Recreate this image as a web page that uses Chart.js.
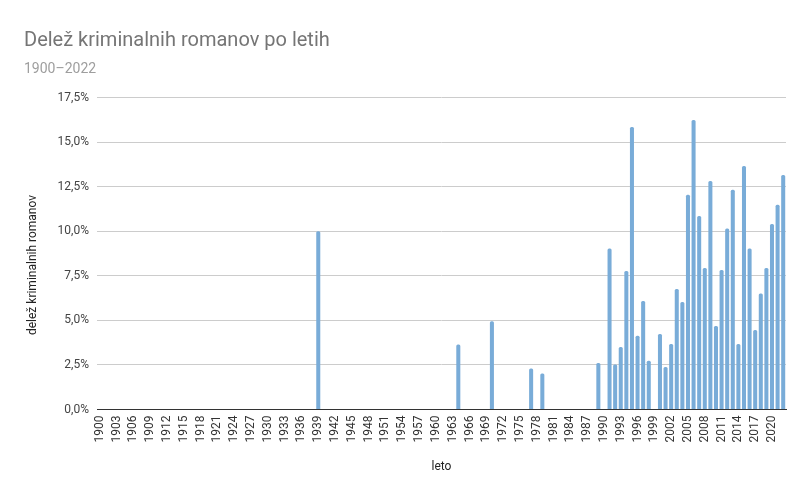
<!DOCTYPE html>
<html>
<head>
<meta charset="utf-8">
<script src="https://cdn.jsdelivr.net/npm/chart.js@4.4.1/dist/chart.umd.min.js"></script>
<style>
  html, body { margin: 0; padding: 0; background: #fff; }
  #wrap { width: 811px; height: 502px; }
</style>
</head>
<body>
<div id="wrap"><canvas id="c" width="811" height="502"></canvas></div>
<script>
const chartTitle = 'Delež kriminalnih romanov po letih';
const chartSubtitle = '1900–2022';
const xAxisTitle = 'leto';
const yAxisTitle = 'delež kriminalnih romanov';

const years = [
  '1900','1901','1902','1903','1904','1905','1906','1907','1908','1909',
  '1910','1911','1912','1913','1914','1915','1916','1917','1918','1919',
  '1920','1921','1922','1923','1924','1925','1926','1927','1928','1929',
  '1930','1931','1932','1933','1934','1935','1936','1937','1938','1939',
  '1940','1941','1942','1943','1944','1945','1946','1947','1948','1949',
  '1950','1951','1952','1953','1954','1955','1956','1957','1958','1959',
  '1960','1961','1962','1963','1964','1965','1966','1967','1968','1969',
  '1970','1971','1972','1973','1974','1975','1976','1977','1978','1979',
  '1980','1981','1982','1983','1984','1985','1986','1987','1988','1989',
  '1990','1991','1992','1993','1994','1995','1996','1997','1998','1999',
  '2000','2001','2002','2003','2004','2005','2006','2007','2008','2009',
  '2010','2011','2012','2013','2014','2015','2016','2017','2018','2019',
  '2020','2021','2022'
];

// share of crime novels per year, in percent
const shares = [
  0, 0, 0, 0, 0, 0, 0, 0, 0, 0,
  0, 0, 0, 0, 0, 0, 0, 0, 0, 0,
  0, 0, 0, 0, 0, 0, 0, 0, 0, 0,
  0, 0, 0, 0, 0, 0, 0, 0, 0, 10.0,
  0, 0, 0, 0, 0, 0, 0, 0, 0, 0,
  0, 0, 0, 0, 0, 0, 0, 0, 0, 0,
  0, 0, 0, 0, 3.65, 0, 0, 0, 0, 0,
  4.95, 0, 0, 0, 0, 0, 0, 2.30, 0, 2.02,
  0, 0, 0, 0, 0, 0, 0, 0, 0, 2.61,
  0, 9.03, 2.52, 3.51, 7.77, 15.85, 4.13, 6.09, 2.73, 0,
  4.24, 2.39, 3.68, 6.76, 6.03, 12.04, 16.24, 10.86, 7.94, 12.82,
  4.69, 7.83, 10.15, 12.32, 3.68, 13.66, 9.03, 4.46, 6.51, 7.94,
  10.41, 11.48, 13.16
];

const xTickLabels = [
  '1900','1903','1906','1909','1912','1915','1918','1921','1924','1927',
  '1930','1933','1936','1939','1942','1945','1948','1951','1954','1957',
  '1960','1963','1966','1969','1972','1975','1978','1981','1984','1987',
  '1990','1993','1996','1999','2002','2005','2008','2011','2014','2017','2020'
];

const yTicks = [0, 2.5, 5, 7.5, 10, 12.5, 15, 17.5];

const FONT = 'Roboto';

const yTitlePlugin = {
  id: 'yTitle',
  afterDraw(chart) {
    const ctx = chart.ctx;
    ctx.save();
    ctx.translate(32.5, 265);
    ctx.rotate(-Math.PI / 2);
    ctx.font = '12px ' + FONT;
    ctx.fillStyle = '#222222';
    ctx.textAlign = 'center';
    ctx.textBaseline = 'middle';
    ctx.fillText(yAxisTitle, 0, 0);
    ctx.restore();
  }
};

new Chart(document.getElementById('c'), {
  type: 'bar',
  data: {
    labels: years,
    datasets: [{
      data: shares,
      backgroundColor: '#79acd8',
      borderWidth: 0,
      borderRadius: { topLeft: 1.5, topRight: 1.5, bottomLeft: 0, bottomRight: 0 },
      borderSkipped: 'bottom',
      categoryPercentage: 1.0,
      barPercentage: 0.72
    }]
  },
  options: {
    responsive: false,
    animation: false,
    devicePixelRatio: 1,
    layout: { padding: { top: 10, left: 24, right: 25, bottom: 20 } },
    plugins: {
      legend: { display: false },
      tooltip: { enabled: false },
      title: {
        display: true,
        text: chartTitle,
        align: 'start',
        color: '#757575',
        font: { family: FONT, size: 20, weight: 'normal' },
        padding: { top: 19, bottom: 0 }
      },
      subtitle: {
        display: true,
        text: chartSubtitle,
        align: 'start',
        color: '#9e9e9e',
        font: { family: FONT, size: 14, weight: 'normal' },
        padding: { top: 7.8, bottom: 19.9 }
      }
    },
    scales: {
      x: {
        grid: { display: false, drawTicks: false },
        border: { display: true, color: '#333333', width: 1 },
        ticks: {
          autoSkip: false,
          minRotation: 90,
          maxRotation: 90,
          padding: 6,
          color: '#333333',
          font: { family: FONT, size: 12 },
          callback: function (value) {
            const lab = this.getLabelForValue(value);
            return xTickLabels.includes(lab) ? lab : null;
          }
        },
        title: {
          display: true,
          text: xAxisTitle,
          color: '#222222',
          font: { family: FONT, size: 12 },
          padding: { top: 0, bottom: 8 }
        },
        afterFit: (s) => { s.height = 72.5; }
      },
      y: {
        min: 0,
        max: 17.5,
        afterBuildTicks: (s) => { s.ticks = yTicks.map(v => ({ value: v })); },
        grid: { color: '#cccccc', lineWidth: 1, drawTicks: false },
        border: { display: false },
        ticks: {
          padding: 8,
          color: '#444444',
          font: { family: FONT, size: 12 },
          callback: (v) => v.toFixed(1).replace('.', ',') + '%'
        },
        title: { display: false },
        afterFit: (s) => { s.width = 73; }
      }
    }
  },
  plugins: [yTitlePlugin]
});
</script>
</body>
</html>
